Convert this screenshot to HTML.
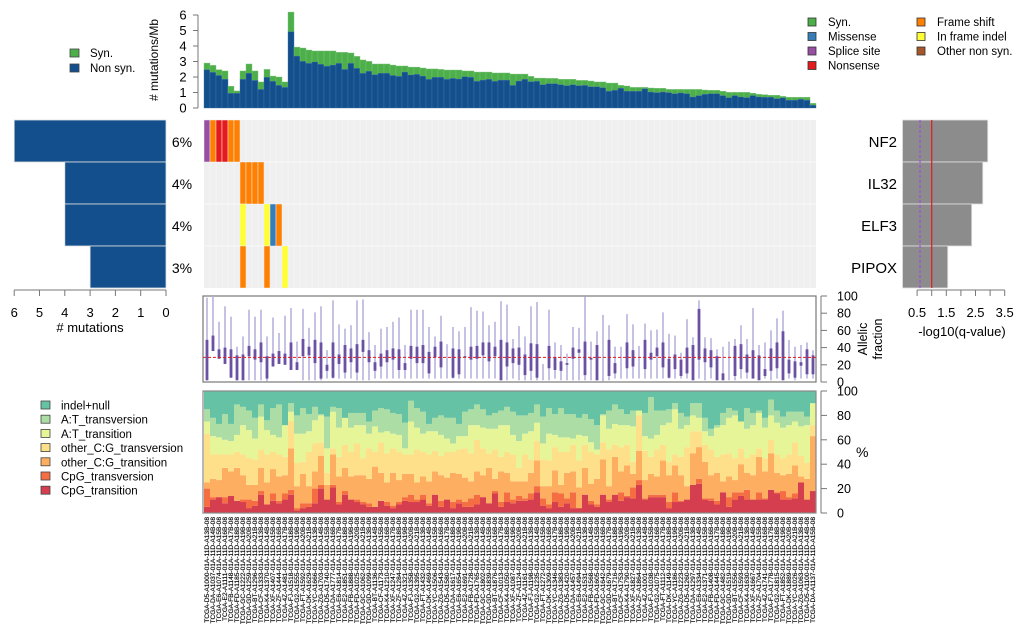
<!DOCTYPE html>
<html><head><meta charset="utf-8">
<style>
html,body{margin:0;padding:0;background:#fff;}
svg{display:block;font-family:"Liberation Sans",sans-serif;}
</style></head>
<body>
<svg id="chart" width="1020" height="624" viewBox="0 0 1020 624" xmlns="http://www.w3.org/2000/svg"></svg>
<script>
// ---------- DATA ----------
const totalRate = [2.9,2.75,2.47,2.39,1.4,1.1,2.39,2.84,2.39,1.68,2.49,2.06,2.0,1.68,6.19,3.93,3.87,3.74,3.68,3.68,3.68,3.68,3.59,3.59,3.55,3.33,3.1,3.01,2.84,2.84,2.84,2.77,2.71,2.71,2.64,2.64,2.58,2.52,2.52,2.49,2.45,2.45,2.45,2.39,2.39,2.32,2.32,2.32,2.26,2.26,2.26,2.19,2.19,2.19,2.04,1.93,1.93,1.91,1.91,1.85,1.85,1.85,1.78,1.78,1.74,1.68,1.68,1.61,1.61,1.46,1.42,1.33,1.33,1.33,1.29,1.27,1.27,1.2,1.2,1.2,1.2,1.2,1.2,1.16,1.14,1.14,1.08,1.01,1.01,1.01,1.01,0.95,0.88,0.86,0.82,0.82,0.75,0.69,0.69,0.69,0.69,0.3];
const nonSynRate = [2.47,2.3,2.1,1.85,0.95,0.95,1.85,2.24,1.78,1.2,1.98,1.72,1.46,1.33,4.92,3.35,3.01,2.88,2.97,2.82,2.69,2.77,2.88,2.49,2.88,2.56,2.24,2.37,2.15,2.24,2.24,2.1,2.04,2.32,2.13,2.17,2.06,1.85,1.98,1.98,1.85,1.91,1.87,2.02,1.98,1.72,1.8,1.85,1.72,1.8,1.8,1.46,1.74,1.85,1.7,1.72,1.5,1.57,1.57,1.5,1.44,1.5,1.44,1.46,1.37,1.37,1.31,1.08,1.14,1.27,1.08,1.08,1.08,1.23,1.03,0.99,1.03,0.99,0.92,0.97,0.92,0.71,0.8,0.88,0.92,0.92,0.8,0.67,0.8,0.71,0.67,0.8,0.71,0.69,0.69,0.6,0.65,0.5,0.5,0.56,0.5,0.17];
const rateTicks = [0,1,2,3,4,5,6];

const genes = ["NF2","IL32","ELF3","PIPOX"];
const genePct = ["6%","4%","4%","3%"];
const geneCounts = [6,4,4,3];
const countTicks = [6,5,4,3,2,1,0];
const qValues = [2.92,2.75,2.37,1.55];
const qTicks = [0.5,1.5,2.5,3.5];
const qThreshold = 1.0;
const qThreshold2 = 0.6;
// oncoprint: [geneIndex, sampleIndex, type]
const mutGene =   [0,0,0,0,0,0, 1,1,1,1, 2,2,2,2, 3,3,3];
const mutSample = [0,1,2,3,4,5, 6,7,8,9, 6,10,11,12, 6,10,13];
const mutType =   ["Splice site","Frame shift","Nonsense","Nonsense","Frame shift","Frame shift","Frame shift","Frame shift","Frame shift","Frame shift","In frame indel","In frame indel","Missense","Frame shift","Frame shift","Frame shift","In frame indel"];

// allelic fraction: min, q1, q3, max
const afMin = [2,36,27,21,5,2,2,2,2,2,1,18,21,20,14,14,2,2,2,2,4,4,4,4,4,2,2,2,4,4,4,4,4,4,4,4,4,4,4,4,4,4,4,4,4,4,4,4,4,2,2,4,2,2,2,2,2,2,4,2,2,2,2,2,2,2,1,2,4,4,4,4,4,4,4,4,4,4,4,4,4,4,4,2,4,4,4,2,2,4,4,4,4,4,2,4,4,4,2,4,4,4];
const afQ1 = [2,36,27,21,5,2,2,30,26,23,4,18,21,20,14,14,30,31,22,4,13,5,21,11,23,11,35,23,13,18,23,26,14,14,27,22,22,10,29,17,29,5,9,29,26,27,31,24,30,2,18,22,20,8,13,5,31,16,14,13,20,27,34,8,26,2,25,7,10,25,16,18,40,15,26,30,17,5,15,7,10,2,26,23,17,2,2,30,7,15,11,4,2,7,13,16,2,10,5,19,9,9];
const afQ3 = [49,54,38,40,38,31,32,42,38,46,30,33,36,33,46,23,50,41,49,46,20,46,32,43,39,44,49,37,23,33,37,39,38,22,42,41,43,35,41,47,28,39,38,30,41,42,46,46,41,49,46,39,40,32,45,44,13,42,29,24,22,40,38,47,28,43,25,49,22,25,46,37,30,49,34,40,46,27,32,26,40,43,85,39,37,30,10,16,42,44,32,37,31,15,39,46,59,26,24,23,38,31];
const afMax = [98,100,70,88,76,41,53,84,76,84,53,75,57,77,86,47,85,63,81,88,37,95,67,62,66,95,96,58,43,62,64,70,75,43,84,84,84,64,53,77,44,64,59,64,87,83,82,66,70,94,90,50,65,53,88,93,21,84,46,43,33,64,63,99,47,59,78,66,41,41,79,67,42,68,60,61,81,56,54,34,73,52,95,52,51,38,41,47,50,66,50,86,43,46,60,74,83,49,41,43,46,37];
const afTicks = [0,20,40,60,80,100];
const afMedianLine = 28.7;

// mutation spectrum: cumulative % tops per sample
const cpgTransitionTop = [5,11,13,8,14,10,9,4,6,15,7,10,8,11,15,2,4,5,8,20,11,21,7,15,11,9,7,5,5,10,6,4,7,10,9,9,11,6,15,5,11,4,8,5,5,7,13,8,16,5,9,8,10,10,11,17,6,4,9,5,8,4,4,15,7,5,15,9,15,10,13,12,23,11,13,13,13,4,9,9,11,23,24,11,10,7,17,5,11,14,11,11,11,11,19,16,11,11,12,25,11,18];
const cpgTransversionTop = [20,13,13,13,14,10,11,11,10,18,7,16,10,16,19,4,8,8,20,23,11,23,9,18,11,11,9,8,5,10,9,6,9,13,15,11,15,8,15,10,11,9,11,9,12,15,13,8,18,9,17,11,14,12,16,22,12,7,17,16,12,17,4,15,10,7,15,11,15,17,14,21,27,12,15,15,15,9,17,10,11,23,28,12,12,10,17,13,17,17,19,11,17,12,19,17,18,13,16,25,11,18];
const otherCGTransitionTop = [25,28,27,37,34,37,31,23,23,37,25,36,30,31,53,22,32,22,34,47,23,48,30,37,30,31,31,28,38,33,25,33,27,32,32,25,30,26,34,31,29,33,32,29,26,34,31,37,28,34,33,26,26,26,33,43,22,22,35,23,33,34,21,37,24,28,44,22,46,34,39,32,51,27,32,30,43,31,39,31,22,49,54,42,31,33,26,30,27,40,33,31,46,34,49,33,31,32,39,30,28,63];
const otherCGTransversionTop = [65,48,48,48,48,50,48,45,44,52,48,50,48,46,75,41,42,50,57,58,33,53,46,56,50,57,45,53,50,58,49,53,50,48,48,52,50,48,51,47,50,50,52,53,49,60,53,49,52,46,50,48,37,48,44,59,44,43,54,50,50,56,43,56,50,48,58,52,56,54,56,42,80,51,46,52,56,42,48,46,54,67,67,56,52,46,48,49,45,53,45,48,53,45,60,48,45,48,58,47,41,72];
const atTransitionTop = [75,63,62,60,59,64,72,68,61,79,68,64,62,72,83,65,65,67,76,80,53,83,70,78,70,72,72,65,71,66,67,65,64,53,75,70,65,67,67,64,61,57,63,63,72,72,70,69,69,72,72,64,59,65,67,74,57,65,64,62,62,61,64,63,58,52,80,69,73,72,72,71,84,63,61,64,72,74,85,69,72,80,78,67,63,70,72,78,80,75,69,72,82,70,80,74,70,72,75,71,72,90];
const atTransversionTop = [85,78,73,81,73,89,87,84,78,89,76,86,89,72,90,80,86,81,87,81,79,87,86,78,82,82,82,75,84,86,85,82,81,74,92,86,83,73,78,80,78,78,73,83,85,89,85,80,82,84,87,83,80,80,82,89,79,86,81,86,81,81,78,81,77,72,81,84,89,85,81,84,84,82,95,84,84,85,90,82,79,90,90,78,69,72,82,86,84,75,86,82,84,78,93,84,79,83,83,83,79,90];
const pctTicks = [0,20,40,60,80,100];

const spectrumNames = ["indel+null","A:T_transversion","A:T_transition","other_C:G_transversion","other_C:G_transition","CpG_transversion","CpG_transition"];
const spectrumColors = ["#66c2a5","#abdda4","#e6f598","#fee08b","#fdae61","#f46d43","#d53e4f"];

const mutLegendNames = ["Syn.","Missense","Splice site","Nonsense","Frame shift","In frame indel","Other non syn."];
const mutColors = {"Syn.":"#4daf4a","Missense":"#377eb8","Splice site":"#984ea3","Nonsense":"#e41a1c","Frame shift":"#ff7f00","In frame indel":"#ffff33","Other non syn.":"#a65628"};

// ---------- HELPERS ----------
const NS="http://www.w3.org/2000/svg";
const svg=document.getElementById('chart');
function el(tag,attrs,parent){const e=document.createElementNS(NS,tag);for(const k in attrs)e.setAttribute(k,attrs[k]);(parent||svg).appendChild(e);return e;}
function txt(s,attrs,parent){const e=el('text',attrs,parent);e.textContent=s;return e;}

const N = totalRate.length;
const X0=204, X1=816;
const colW=(X1-X0)/N;
const colX=i=>X0+i*colW;

// ---------- TOP BAR ----------
const rateY=v=>108-v*15.5;
const gTop=el('g',{});


for(let i=0;i<N;i++){
  const r1=el('rect',{x:colX(i),y:rateY(totalRate[i]),width:colW,height:(totalRate[i]-nonSynRate[i])*15.5,fill:"#4daf4a",stroke:"#7fc47c","stroke-width":0.4},gTop);
  
  
  const r2=el('rect',{x:colX(i),y:rateY(nonSynRate[i]),width:colW,height:nonSynRate[i]*15.5,fill:"#124f8c",stroke:"#4a78a8","stroke-width":0.4},gTop);
  
  
}
const gTopAx=el('g',{});


el('line',{x1:198,x2:198,y1:rateY(0),y2:rateY(6),stroke:"#777"},gTopAx);
rateTicks.forEach(t=>{
  el('line',{x1:193,x2:198,y1:rateY(t),y2:rateY(t),stroke:"#777"},gTopAx);
  txt(String(t),{x:183,y:rateY(t)+4.5,"font-size":13,"text-anchor":"middle",fill:"#000"},gTopAx);
});
const rt=txt("# mutations/Mb",{x:0,y:0,"font-size":12,"text-anchor":"middle",transform:"translate(158,60) rotate(-90)"});



// top-left legend
[["Syn.","#4daf4a",53],["Non syn.","#124f8c",68]].forEach(([n,c,y])=>{
  const g=el('g',{});
  
  
  el('rect',{x:70,y:y-4,width:9,height:8,fill:c,stroke:"#444","stroke-width":0.8},g);
  txt(n,{x:90,y:y+4,"font-size":11.5},g);
});
// top-right legend
mutLegendNames.forEach((n,i)=>{
  const col=i<4?0:1, row=i<4?i:i-4;
  const x=col?917:808, y=22+row*14.5;
  const g=el('g',{});
  
  
  el('rect',{x:x,y:y-4,width:8,height:8,fill:mutColors[n],stroke:"#333","stroke-width":0.8},g);
  txt(n,{x:x+20,y:y+4,"font-size":11.5},g);
});

// ---------- ONCOPRINT ----------
const rowY=[120,162,204,246], rowH=42;
const gOnc=el('g',{});


el('rect',{x:X0,y:120,width:X1-X0,height:168,fill:"#efefef"},gOnc);
for(let i=1;i<N;i++) el('line',{x1:colX(i),x2:colX(i),y1:120,y2:288,stroke:"#f6f6f6","stroke-width":0.6},gOnc);
for(let r=1;r<4;r++) el('line',{x1:X0,x2:X1,y1:rowY[r],y2:rowY[r],stroke:"#fafafa","stroke-width":1},gOnc);
for(let k=0;k<mutGene.length;k++){
  const r=el('rect',{x:colX(mutSample[k]),y:rowY[mutGene[k]],width:colW,height:rowH,fill:mutColors[mutType[k]],stroke:"#f0f0f0","stroke-width":0.5},gOnc);
  
  
}

// ---------- LEFT COUNT BARS ----------
const cntX=v=>166-v*25.3;
const gL=el('g',{});


geneCounts.forEach((c,i)=>{
  const r=el('rect',{x:cntX(c),y:rowY[i],width:c*25.3,height:rowH,fill:"#124f8c",stroke:"#e0e0e0","stroke-width":0.8},gL);
  
  
  const t=txt(genePct[i],{x:182,y:rowY[i]+27,"font-size":14,"text-anchor":"middle"});
  
  
});
const gLA=el('g',{});


el('line',{x1:cntX(6),x2:cntX(0),y1:290,y2:290,stroke:"#777"},gLA);
countTicks.forEach(t=>{
  el('line',{x1:cntX(t),x2:cntX(t),y1:290,y2:296,stroke:"#777"},gLA);
  txt(String(t),{x:cntX(t),y:317,"font-size":13,"text-anchor":"middle"},gLA);
});
txt("# mutations",{x:90,y:332,"font-size":13,"text-anchor":"middle"},gLA);

// ---------- RIGHT Q-VALUE BARS ----------
const qX=v=>902.5+v*29.2;
const gR=el('g',{});


qValues.forEach((q,i)=>{
  const r=el('rect',{x:qX(0),y:rowY[i],width:q*29.2,height:rowH,fill:"#8c8c8c",stroke:"#e0e0e0","stroke-width":0.8},gR);
  
  
  const t=txt(genes[i],{x:897,y:rowY[i]+27,"font-size":15,"text-anchor":"end"});
  
  
});
el('line',{x1:qX(qThreshold2),x2:qX(qThreshold2),y1:120,y2:288,stroke:"#a040f0","stroke-width":1,"stroke-dasharray":"3,2"},gR);
el('line',{x1:qX(qThreshold),x2:qX(qThreshold),y1:120,y2:288,stroke:"#e41a1c","stroke-width":1.2},gR);
const gRA=el('g',{});


el('line',{x1:qX(0.5),x2:qX(3.5),y1:290,y2:290,stroke:"#777"},gRA);
[0.5,1,1.5,2,2.5,3,3.5].forEach(t=>el('line',{x1:qX(t),x2:qX(t),y1:290,y2:296,stroke:"#777"},gRA));
qTicks.forEach(t=>txt(String(t),{x:qX(t),y:317,"font-size":13,"text-anchor":"middle"},gRA));
txt("-log10(q-value)",{x:962,y:336,"font-size":13,"text-anchor":"middle"},gRA);

// ---------- ALLELIC FRACTION ----------
const afY=v=>382-v*0.86;
const gAF=el('g',{});


el('rect',{x:203,y:296,width:613,height:86,fill:"none",stroke:"#777","stroke-width":1.2},gAF);
for(let i=0;i<N;i++){
  const cx=colX(i)+colW/2;
  el('line',{x1:cx,x2:cx,y1:afY(afMin[i]),y2:afY(afMax[i]),stroke:"#b8b2dc","stroke-width":1.6},gAF);
  const b=el('rect',{x:cx-1.4,y:afY(afQ3[i]),width:2.8,height:(afQ3[i]-afQ1[i])*0.86,fill:"#6a51a3"},gAF);
  
  
}
el('line',{x1:203,x2:816,y1:afY(afMedianLine),y2:afY(afMedianLine),stroke:"#e41a1c","stroke-width":1,"stroke-dasharray":"3,2"},gAF);
const gAFA=el('g',{});


el('line',{x1:821,x2:821,y1:afY(0),y2:afY(100),stroke:"#777"},gAFA);
afTicks.forEach(t=>{
  el('line',{x1:821,x2:827,y1:afY(t),y2:afY(t),stroke:"#777"},gAFA);
  txt(String(t),{x:837,y:afY(t)+4.5,"font-size":12.5},gAFA);
});
txt("Allelic",{x:0,y:0,"font-size":12.5,"text-anchor":"middle",transform:"translate(867,339) rotate(-90)"},gAFA);
txt("fraction",{x:0,y:0,"font-size":12.5,"text-anchor":"middle",transform:"translate(882,339) rotate(-90)"},gAFA);

// ---------- SPECTRUM ----------
const pY=v=>513-v*1.22;
const gS=el('g',{});


const tops=[cpgTransitionTop,cpgTransversionTop,otherCGTransitionTop,otherCGTransversionTop,atTransitionTop,atTransversionTop];
const stackCols=["#d53e4f","#f46d43","#fdae61","#fee08b","#e6f598","#abdda4","#66c2a5"];
for(let i=0;i<N;i++){
  let prev=0;
  for(let k=0;k<7;k++){
    const top=k<6?tops[k][i]:100;
    const r=el('rect',{x:colX(i),y:pY(top),width:colW+0.3,height:Math.max(0,(top-prev)*1.22),fill:stackCols[k]},gS);
    
    
    prev=top;
  }
}
el('rect',{x:203,y:391,width:613,height:122,fill:"none",stroke:"#888","stroke-width":1.2},gS);
const gSA=el('g',{});


el('line',{x1:821,x2:821,y1:pY(0),y2:pY(100),stroke:"#777"},gSA);
pctTicks.forEach(t=>{
  el('line',{x1:821,x2:827,y1:pY(t),y2:pY(t),stroke:"#777"},gSA);
  txt(String(t),{x:837,y:pY(t)+4.5,"font-size":12.5},gSA);
});
txt("%",{x:856,y:457,"font-size":14},gSA);

// spectrum legend
spectrumNames.forEach((n,i)=>{
  const y=405+i*14.2;
  const g=el('g',{});
  
  
  el('rect',{x:41,y:y-4,width:9,height:8,fill:spectrumColors[i],stroke:"#444","stroke-width":0.8},g);
  txt(n,{x:61,y:y+4.5,"font-size":11.5},g);
});

// sample labels
const gSL=el('g',{});


const codes=["D5","DA","E6","E2","FB","FD","GC","GD","BT","CF","K4","XF","ZF","4Z","FJ","G2","FT","DK","YC","ZG"];
for(let i=0;i<N;i++){
  const cx=colX(i)+colW/2+2.2;
  const id="TCGA-"+codes[i%codes.length]+"-A"+(1000+i*37%900)+"-01A-11D-A"+(13+i%9)+"B-08";
  const t=txt(id,{x:0,y:0,"font-size":6.6,"text-anchor":"end",fill:"#000",stroke:"#000","stroke-width":0.15,transform:`translate(${cx.toFixed(1)},517) rotate(-90)`},gSL);
  
  
}
</script>
</body></html>
